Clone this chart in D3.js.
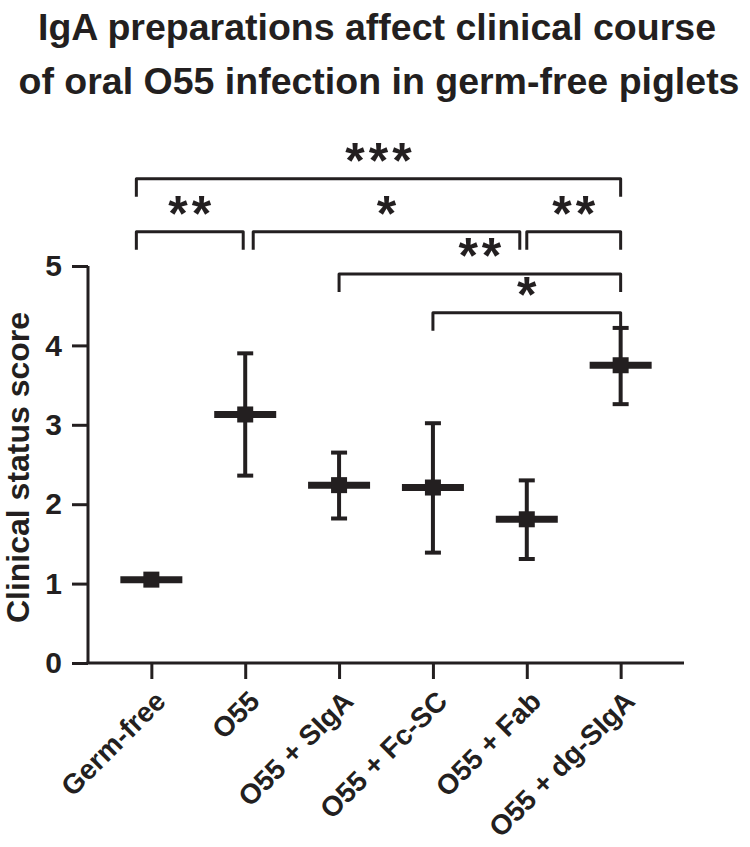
<!DOCTYPE html>
<html lang="en">
<head>
    <meta charset="UTF-8">
    <title>IgA preparations clinical score</title>
    <script src="https://d3js.org/d3.v7.min.js"></script>
    <style>
        body { margin: 0; background: #fff; }
        svg text { font-family: "Liberation Sans", Arial, Helvetica, sans-serif; font-weight: bold; fill: #231f20; }
    </style>
</head>
<body>
    <div id="chart"></div>
    <script>
        // data
        const groups = ["Germ-free", "O55", "O55 + SIgA", "O55 + Fc-SC", "O55 + Fab", "O55 + dg-SIgA"];
        const means  = [1.05, 3.13, 2.24, 2.21, 1.81, 3.75];
        const upper  = [1.05, 3.90, 2.65, 3.02, 2.30, 4.22];
        const lower  = [1.05, 2.36, 1.82, 1.39, 1.31, 3.26];
        const yTicks = [0, 1, 2, 3, 4, 5];

        // significance comparisons
        const compFrom  = ["Germ-free", "Germ-free", "O55", "O55 + Fab", "O55 + SIgA", "O55 + Fc-SC"];
        const compTo    = ["O55 + dg-SIgA", "O55", "O55 + Fab", "O55 + dg-SIgA", "O55 + dg-SIgA", "O55 + dg-SIgA"];
        const compStars = ["***", "**", "*", "**", "**", "*"];
        const compLevel = [6.1, 5.43, 5.43, 5.43, 4.9, 4.41];

        const width = 750, height = 847;
        const ink = "#231f20";

        const svg = d3.select("#chart").append("svg")
            .attr("width", width)
            .attr("height", height);

        const x = d3.scalePoint()
            .domain(groups)
            .range([88, 684])
            .padding(0.675);

        const y = d3.scaleLinear()
            .domain([0, 5])
            .range([663, 266]);

        // title
        svg.append("text")
            .attr("x", 377).attr("y", 40)
            .attr("text-anchor", "middle")
            .style("font-size", "37.5px")
            .text("IgA preparations affect clinical course");
        svg.append("text")
            .attr("x", 379).attr("y", 94)
            .attr("text-anchor", "middle")
            .style("font-size", "37.5px")
            .text("of oral O55 infection in germ-free piglets");

        // y axis
        const yAxis = svg.append("g")
            .attr("transform", "translate(88,0)")
            .call(d3.axisLeft(y).tickValues(yTicks).tickFormat(d3.format("d")).tickSize(16).tickPadding(10));
        yAxis.select(".domain").attr("stroke", ink).attr("stroke-width", 3).attr("d", `M0,${y(5)}V${y(0)}`);
        yAxis.selectAll(".tick line").attr("stroke", ink).attr("stroke-width", 3);
        yAxis.selectAll(".tick text").style("font-size", "30px").attr("fill", ink);

        // x axis
        const xAxis = svg.append("g")
            .attr("transform", `translate(0,${y(0)})`)
            .call(d3.axisBottom(x).tickSize(16).tickFormat(""));
        xAxis.select(".domain").attr("stroke", ink).attr("stroke-width", 3).attr("d", "M86.5,0H684");
        xAxis.selectAll(".tick line").attr("stroke", ink).attr("stroke-width", 3);

        svg.append("g").selectAll("text")
            .data(groups)
            .join("text")
            .attr("text-anchor", "end")
            .attr("transform", d => `translate(${x(d) + 16},${y(0) + 40}) rotate(-45)`)
            .style("font-size", "28px")
            .text(d => d);

        svg.append("text")
            .attr("transform", `translate(29,${(y(0) + y(5)) / 2 + 3}) rotate(-90)`)
            .attr("text-anchor", "middle")
            .style("font-size", "32px")
            .text("Clinical status score");

        // error bars and means
        const pts = svg.append("g").selectAll("g")
            .data(groups)
            .join("g");

        pts.each(function (d, i) {
            if (upper[i] <= lower[i]) return;
            const g = d3.select(this);
            g.append("line")
                .attr("x1", x(d)).attr("x2", x(d))
                .attr("y1", y(upper[i])).attr("y2", y(lower[i]))
                .attr("stroke", ink).attr("stroke-width", 4);
            [upper[i], lower[i]].forEach(v => {
                g.append("line")
                    .attr("x1", x(d) - 8).attr("x2", x(d) + 8)
                    .attr("y1", y(v)).attr("y2", y(v))
                    .attr("stroke", ink).attr("stroke-width", 4);
            });
        });

        pts.append("line")
            .attr("x1", d => x(d) - 31).attr("x2", d => x(d) + 31)
            .attr("y1", (d, i) => y(means[i])).attr("y2", (d, i) => y(means[i]))
            .attr("stroke", ink).attr("stroke-width", 7);

        pts.append("rect")
            .attr("x", d => x(d) - 8).attr("y", (d, i) => y(means[i]) - 8)
            .attr("width", 16).attr("height", 16)
            .attr("fill", ink);

        // significance brackets
        const drop = 18;
        const starGap = 4;
        function endX(name, side) {
            // small nudges so neighbouring brackets don't touch
            if (name === "Germ-free") return x(name) - 15;
            if (side === "right" && name === "O55") return x(name) - 2;
            if (side === "left" && name === "O55") return x(name) + 8;
            if (side === "right" && name === "O55 + Fab") return x(name) - 7;
            return x(name);
        }
        const br = svg.append("g");
        compFrom.forEach((a, i) => {
            const x1 = endX(a, "left"), x2 = endX(compTo[i], "right");
            const yy = y(compLevel[i]);
            br.append("path")
                .attr("d", `M${x1},${yy + drop}V${yy}H${x2}V${yy + drop}`)
                .attr("fill", "none")
                .attr("stroke", ink)
                .attr("stroke-width", 3)
                .attr("stroke-linejoin", "round");
            br.append("text")
                .attr("x", (x1 + x2) / 2 + starGap / 2)
                .attr("y", yy - 1)
                .attr("text-anchor", "middle")
                .style("font-size", "50px")
                .style("letter-spacing", starGap + "px")
                .text(compStars[i]);
        });
    </script>
</body>
</html>
